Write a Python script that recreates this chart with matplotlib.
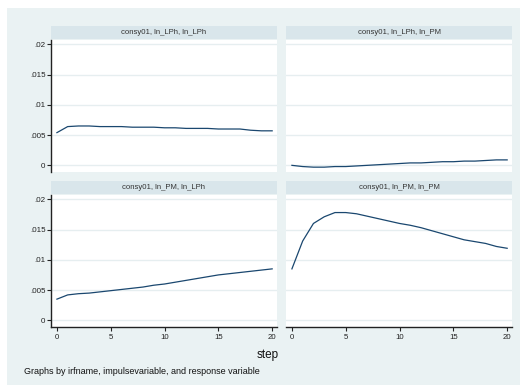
import matplotlib
matplotlib.use("Agg")
import matplotlib.pyplot as plt

plt.rcParams['font.family'] = ['Liberation Sans', 'DejaVu Sans']

steps = list(range(21))
titles = ['consy01, ln_LPh, ln_LPh', 'consy01, ln_LPh, ln_PM',
          'consy01, ln_PM, ln_LPh', 'consy01, ln_PM, ln_PM']
lph_lph = [0.0054, 0.0064, 0.0065, 0.0065, 0.0064, 0.0064, 0.0064, 0.0063, 0.0063, 0.0063, 0.0062,
           0.0062, 0.0061, 0.0061, 0.0061, 0.0060, 0.0060, 0.0060, 0.0058, 0.0057, 0.0057]
lph_pm = [0.0, -0.0002, -0.0003, -0.0003, -0.0002, -0.0002, -0.0001, 0.0, 0.0001, 0.0002, 0.0003,
          0.0004, 0.0004, 0.0005, 0.0006, 0.0006, 0.0007, 0.0007, 0.0008, 0.0009, 0.0009]
pm_lph = [0.0035, 0.0042, 0.0044, 0.0045, 0.0047, 0.0049, 0.0051, 0.0053, 0.0055, 0.0058, 0.0060,
          0.0063, 0.0066, 0.0069, 0.0072, 0.0075, 0.0077, 0.0079, 0.0081, 0.0083, 0.0085]
pm_pm = [0.0085, 0.0131, 0.0160, 0.0171, 0.0178, 0.0178, 0.0176, 0.0172, 0.0168, 0.0164, 0.0160,
         0.0157, 0.0153, 0.0148, 0.0143, 0.0138, 0.0133, 0.0130, 0.0127, 0.0122, 0.0119]
series = [lph_lph, lph_pm, pm_lph, pm_pm]
yticks = [0, 0.005, 0.01, 0.015, 0.02]
ytick_labels = ['0', '.005', '.01', '.015', '.02']
xticks = [0, 5, 10, 15, 20]

W, H = 520, 385
fig = plt.figure(figsize=(W / 100, H / 100), dpi=100)
fig.patch.set_facecolor('white')


def px_axes(x0, y0, x1, y1):
    return fig.add_axes([x0 / W, 1 - y1 / H, (x1 - x0) / W, (y1 - y0) / H])


# outer graph region
bg = px_axes(7, 8, W, H)
bg.set_facecolor('#eaf2f3')
bg.set_xticks([])
bg.set_yticks([])
for s in bg.spines.values():
    s.set_visible(False)

line_col = '#1a476f'
panels = [(51, 277, 26, 39, 172), (286, 512, 26, 39, 172),
          (51, 277, 181, 194, 327), (286, 512, 181, 194, 327)]

for i, (x0, x1, hy0, py0, py1) in enumerate(panels):
    hdr = px_axes(x0, hy0, x1, py0)
    hdr.set_facecolor('#d9e6eb')
    hdr.set_xticks([])
    hdr.set_yticks([])
    for s in hdr.spines.values():
        s.set_visible(False)
    hdr.text(0.5, 0.5, titles[i], ha='center', va='center', fontsize=5.6, color='#333333')

    ax = px_axes(x0, py0 + 1, x1, py1)
    ax.set_facecolor('white')
    ax.plot(steps, series[i], color=line_col, lw=0.9)
    ax.set_xlim(-0.55, 20.45)
    ax.set_ylim(-0.0011, 0.0207)
    ax.set_yticks(yticks)
    ax.grid(axis='y', color='#e6eef0', lw=1.0)
    ax.set_axisbelow(True)
    for s in ax.spines.values():
        s.set_visible(False)
    if i % 2 == 0:
        ax.spines['left'].set_visible(True)
        ax.spines['left'].set_color('#222222')
        ax.spines['left'].set_linewidth(1.0)
        ax.set_yticklabels(ytick_labels)
        ax.tick_params(axis='y', length=3, width=0.8, labelsize=5.8, pad=1, colors='#222222')
    else:
        ax.tick_params(axis='y', length=0, labelleft=False)
    if i >= 2:
        ax.spines['bottom'].set_visible(True)
        ax.spines['bottom'].set_color('#222222')
        ax.spines['bottom'].set_linewidth(1.0)
        ax.set_xticks(xticks)
        ax.tick_params(axis='x', length=3, width=0.8, labelsize=5.6, pad=2, colors='#222222')
    else:
        ax.set_xticks([])

fig.text(268 / W, 1 - 355 / H, 'step', ha='center', va='center', fontsize=8.5, color='#111111')
fig.text(24 / W, 1 - 372 / H, 'Graphs by irfname, impulsevariable, and response variable',
         ha='left', va='center', fontsize=6.5, color='#111111')

fig.savefig('out.png', dpi=100)
